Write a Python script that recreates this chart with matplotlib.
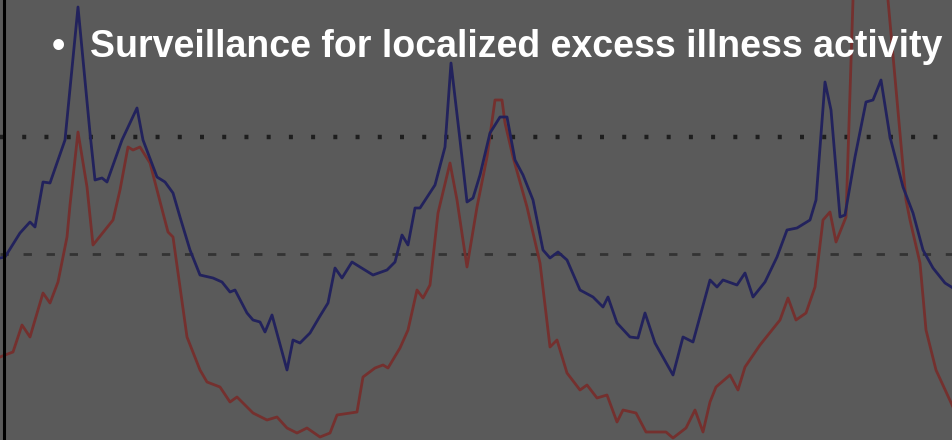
import matplotlib
matplotlib.use("Agg")
import matplotlib.pyplot as plt

# Weekly position (horizontal units) and activity levels
blue_x = [0, 5, 20, 30, 35, 43, 50, 65, 78, 90, 95, 102, 107, 122, 137, 143, 157, 165, 173, 180,
          190, 200, 213, 222, 230, 235, 247, 253, 260, 265, 272, 287, 293, 300, 310, 320, 328, 335,
          342, 352, 360, 373, 387, 395, 402, 408, 415, 420, 435, 445, 451, 460, 467, 473, 480, 490,
          500, 507, 515, 523, 533, 543, 550, 558, 567, 580, 593, 603, 608, 617, 630, 638, 645, 655,
          673, 683, 693, 710, 717, 723, 737, 745, 753, 765, 777, 787, 797, 810, 816, 825, 831, 840,
          845, 855, 866, 873, 881, 890, 903, 913, 923, 933, 945, 953]
blue_y = [182, 183, 207, 218, 213, 258, 257, 300, 433, 307, 260, 262, 258, 300, 332, 300, 263, 258,
          247, 223, 190, 165, 162, 158, 148, 150, 127, 120, 118, 108, 125, 70, 100, 97, 107, 124, 137,
          172, 162, 178, 173, 165, 170, 178, 205, 195, 232, 232, 255, 293, 377, 300, 238, 242, 265,
          307, 323, 323, 280, 265, 240, 190, 182, 188, 180, 150, 143, 133, 143, 117, 103, 102, 127,
          97, 65, 103, 98, 160, 153, 160, 155, 167, 143, 158, 183, 210, 212, 220, 240, 358, 330, 223,
          225, 283, 338, 340, 360, 303, 253, 227, 190, 172, 157, 152]

red_x = [0, 5, 13, 22, 30, 43, 50, 58, 67, 70, 78, 87, 93, 113, 120, 128, 133, 140, 150, 163, 168,
         173, 180, 187, 200, 207, 220, 230, 237, 253, 267, 277, 287, 297, 307, 320, 330, 337, 357,
         363, 375, 383, 388, 400, 408, 417, 423, 430, 438, 450, 457, 467, 477, 487, 495, 502, 505,
         513, 527, 540, 550, 557, 567, 580, 587, 597, 607, 617, 623, 636, 646, 666, 673, 686, 695,
         703, 710, 716, 730, 738, 745, 760, 780, 788, 796, 806, 815, 823, 830, 836, 846, 853, 862,
         878, 888, 906, 910, 920, 926, 936, 953]
red_y = [83, 85, 88, 115, 103, 147, 137, 158, 203, 235, 308, 253, 195, 220, 250, 293, 290, 293, 277,
         227, 208, 203, 153, 103, 70, 58, 53, 38, 43, 27, 20, 23, 12, 7, 12, 3, 7, 25, 28, 63, 72,
         75, 72, 92, 110, 150, 142, 155, 227, 277, 240, 173, 233, 283, 340, 340, 317, 283, 233, 177,
         93, 100, 67, 50, 55, 42, 45, 18, 30, 27, 8, 8, 2, 12, 30, 8, 38, 53, 65, 50, 73, 95, 120,
         142, 120, 127, 153, 220, 228, 198, 223, 440, 530, 530, 440, 240, 220, 177, 110, 70, 33]

upper_threshold = 303
lower_threshold = 186

title = "Surveillance for localized excess illness activity"

BG = "#5a5a5a"
BLUE = "#22225c"
RED = "#74302e"

fig = plt.figure(figsize=(9.53, 4.40), dpi=100, facecolor=BG)
ax = fig.add_axes([0, 0, 1, 1])
ax.set_facecolor(BG)
ax.set_xlim(0, 953)
ax.set_ylim(0, 440)
for s in ax.spines.values():
    s.set_visible(False)
ax.set_xticks([])
ax.set_yticks([])

ax.axhline(upper_threshold, color="#1e1e1e", lw=3.2, linestyle=(0, (0.9, 4.1)), zorder=1)
ax.axhline(lower_threshold, color="#333333", lw=2.0, linestyle=(0, (3, 5.3)), zorder=1)

ax.plot(red_x, red_y, color=RED, lw=2.0, zorder=3, solid_joinstyle="round")
ax.plot(blue_x, blue_y, color=BLUE, lw=2.0, zorder=4, solid_joinstyle="round")

ax.axvline(4, color="black", lw=2.2, zorder=5)

ax.text(58, 383, "\u2022", color="white", fontsize=27, fontweight="bold",
        family="Liberation Sans", ha="center", va="baseline", zorder=6)
ax.text(90, 383, title, color="white", fontsize=27, fontweight="bold",
        family="Liberation Sans", ha="left", va="baseline", zorder=6)

fig.savefig("out.png", dpi=100, facecolor=BG)
